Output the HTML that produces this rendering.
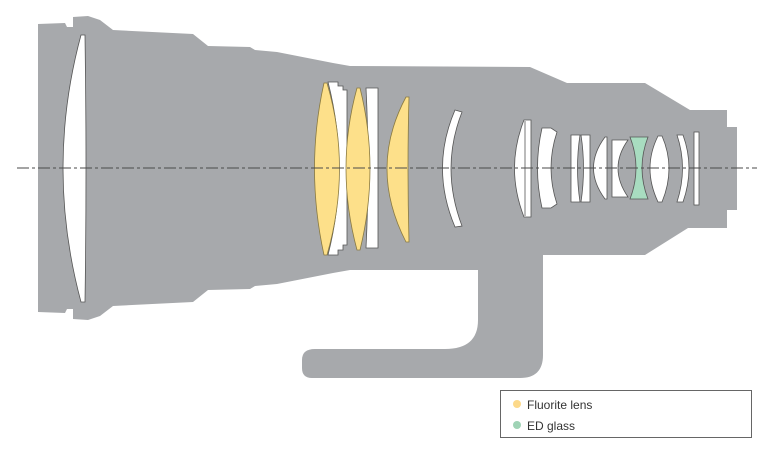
<!DOCTYPE html>
<html><head><meta charset="utf-8"><style>
html,body{margin:0;padding:0;background:#fff;width:774px;height:462px;overflow:hidden}
svg{display:block}
</style></head><body>
<svg width="774" height="462" viewBox="0 0 774 462" xmlns="http://www.w3.org/2000/svg">
<g fill="#a7a9ac">
<path d="M38,24 L65,23 L67,27 L73,27 L73,17 L88,16 L100,20 L113,30 L193,34 L208,46 L250,47 L255,50 L277,52 L333,63 L350,66 L530,67 L567,83 L645,83 L690,110 L727,110 L727,127 L737,127 L737,210 L727,210 L727,228 L688,228 L645,255 L543,255 L543,355 Q543,378 520,378 L312,378 Q302,378 302,368 L302,360 Q302,349 315,349 L445,349 Q478,349 478,320 L478,270 L350,270 L333,273 L277,284 L255,286 L250,289 L208,290 L193,302 L113,306 L100,316 L88,320 L73,319 L73,309 L67,309 L65,313 L38,312 Z"/>
</g>
<g stroke="#555" stroke-width="0.8" fill="#fff">
<!-- front lens -->
<path d="M81,35 Q45,168 81,302 L85,302 Q87,168 85,35 Z"/>
<!-- group 1 -->
<path d="M328,82 L338,82 L338,86 L343,86 L343,90 L347,90 L347,245 L343,245 L343,250 L338,250 L338,255 L328,255 Q350,168 328,82 Z"/>
<path d="M366,88 L378,88 L378,248 L366,248 Q370,168 366,88 Z"/>
<!-- meniscus -->
<path d="M455,110 L462,112 Q440,168 462,226 L455,227 Q430,168 455,110 Z"/>
<!-- rear groups -->
<path d="M524,120 L531,120 L531,217 L524,217 Q505,168 524,120 Z"/>
<line x1="525" y1="121" x2="525" y2="216"/>
<path d="M542,128 L551,128 L557,132 Q545,168 557,204 L551,208 L542,208 Q533,168 542,128 Z"/>
<path d="M571,135 L580,135 Q575,168 580,202 L571,202 Z"/>
<path d="M581,135 L590,135 L590,202 L581,202 Q586,168 581,135 Z"/>
<path d="M605,137 L607,137 L607,199 L605,199 Q582,168 605,137 Z"/>
<path d="M612,140 L628,140 Q608,168 628,197 L612,197 Z"/>
<path d="M658,136 L662,136 Q676,168 662,202 L658,202 Q642,168 658,136 Z"/>
<path d="M677,135 L683,135 Q695,168 683,202 L677,202 Q688,168 677,135 Z"/>
<rect x="694" y="132" width="5" height="73"/>
</g>
<g stroke="#8a7a40" stroke-width="0.8" fill="#fde08a">
<path d="M324,83 L327,83 Q352,168 327,255 L324,255 Q305,168 324,83 Z"/>
<path d="M357,88 L360,88 Q380,168 360,250 L357,250 Q335,168 357,88 Z"/>
<path d="M406,97 L409,97 Q407,168 409,242 L406,242 Q368,168 406,97 Z"/>
</g>
<path d="M630,137 L648,137 Q636,168 648,199 L630,199 Q642,168 630,137 Z" fill="#a8dcc0" stroke="#555" stroke-width="0.8"/>
<line x1="17" y1="168" x2="757" y2="168" stroke="#4a4a4a" stroke-width="1" stroke-dasharray="12,3,3,3"/>
<rect x="500.5" y="390.5" width="251" height="47" fill="#fff" stroke="#666" stroke-width="1"/>
<circle cx="517" cy="404" r="4" fill="#fcd98a"/>
<circle cx="517" cy="425" r="4" fill="#9fd3b5"/>
<text x="527" y="409" font-family="Liberation Sans, sans-serif" font-size="12" fill="#333">Fluorite lens</text>
<text x="527" y="430" font-family="Liberation Sans, sans-serif" font-size="12" fill="#333">ED glass</text>
</svg>
</body></html>
